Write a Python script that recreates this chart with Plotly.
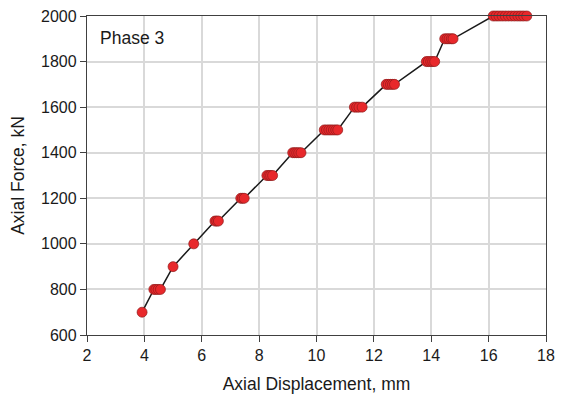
import plotly.graph_objects as go

# Axial displacement (mm) and axial force (kN), in load order
displacement = [3.92,
                4.33, 4.40, 4.48, 4.56,
                5.00,
                5.72,
                6.46, 6.52, 6.58,
                7.36, 7.42, 7.48,
                8.27, 8.34, 8.40, 8.47,
                9.17, 9.24, 9.31, 9.38, 9.46,
                10.27, 10.35, 10.43, 10.51, 10.59, 10.67, 10.74,
                11.32, 11.40, 11.48, 11.59,
                12.43, 12.50, 12.58, 12.65, 12.72,
                13.83, 13.90, 13.98, 14.05, 14.12,
                14.47, 14.55, 14.62, 14.70, 14.76,
                16.16, 16.26, 16.36, 16.47, 16.58, 16.69, 16.80, 16.91, 17.02, 17.12, 17.22, 17.33]
force = [700,
         800, 800, 800, 800,
         900,
         1000,
         1100, 1100, 1100,
         1200, 1200, 1200,
         1300, 1300, 1300, 1300,
         1400, 1400, 1400, 1400, 1400,
         1500, 1500, 1500, 1500, 1500, 1500, 1500,
         1600, 1600, 1600, 1600,
         1700, 1700, 1700, 1700, 1700,
         1800, 1800, 1800, 1800, 1800,
         1900, 1900, 1900, 1900, 1900,
         2000, 2000, 2000, 2000, 2000, 2000, 2000, 2000, 2000, 2000, 2000, 2000]

x_ticks = [2, 4, 6, 8, 10, 12, 14, 16, 18]
y_ticks = [600, 800, 1000, 1200, 1400, 1600, 1800, 2000]

font_family = "Liberation Sans, Arial, sans-serif"

fig = go.Figure()
fig.add_trace(go.Scatter(
    x=displacement, y=force, mode="lines+markers",
    line=dict(color="#1a1a1a", width=1.5),
    marker=dict(size=10, color="#e8282b", line=dict(color="#8e1b1b", width=0.7)),
    showlegend=False, cliponaxis=False,
))

axis_common = dict(
    showgrid=True, gridcolor="#d9d9d9", gridwidth=1.5,
    showline=True, linecolor="#404040", linewidth=1.3, mirror=True,
    ticks="outside", ticklen=6, tickcolor="#404040", tickwidth=1.2,
    tickfont=dict(family=font_family, size=16, color="#1a1a1a"),
    ticklabeloverflow="allow",
    zeroline=False, automargin=False,
)

fig.update_xaxes(range=[2, 18], tickvals=x_ticks, ticktext=[str(v) for v in x_ticks],
                 title=dict(text="Axial Displacement, mm", standoff=14,
                            font=dict(family=font_family, size=17.5, color="#1a1a1a")),
                 **axis_common)
fig.update_yaxes(range=[600, 2000], tickvals=y_ticks, ticktext=[str(v) for v in y_ticks],
                 title=dict(text="Axial Force, kN", standoff=14,
                            font=dict(family=font_family, size=17.5, color="#1a1a1a")),
                 **axis_common)

fig.add_annotation(text="Phase 3", xref="paper", yref="paper", x=0.025, y=0.93,
                   xanchor="left", yanchor="middle", showarrow=False,
                   font=dict(family=font_family, size=17.5, color="#1a1a1a"))

# The page body has an 8px default margin, so the figure is sized to fit the window
fig.update_layout(
    width=562, height=394,
    margin=dict(l=79, r=24, t=8, b=67),
    paper_bgcolor="white", plot_bgcolor="white",
    font=dict(family=font_family),
)

fig.write_html("out.html")
